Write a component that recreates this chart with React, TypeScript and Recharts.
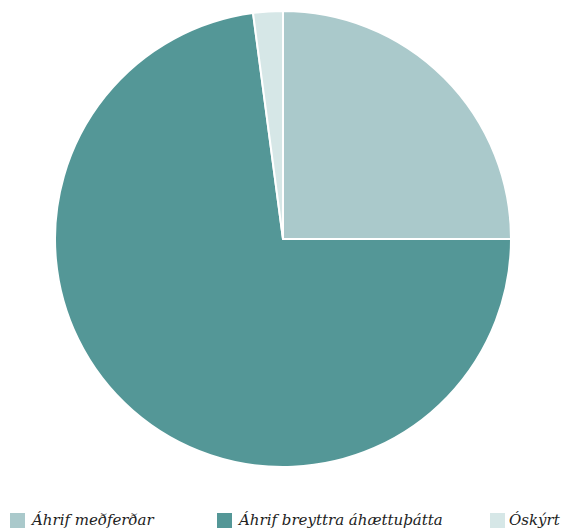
import React from 'react';
import { PieChart, Pie, Cell, Legend } from 'recharts';

const categories = ['Áhrif meðferðar', 'Áhrif breyttra áhættuþátta', 'Óskýrt'];
const values = [25, 72.9, 2.1];
const colors = ['#aac9cb', '#549797', '#d6e7e7'];

const data = categories.map((name, i) => ({ name, value: values[i] }));

const legendLefts = [10, 217, 490];
const legendGaps = [7, 7, 4];

const renderLegend = () => (
  <div style={{ position: 'relative', width: 565, height: 24 }}>
    {categories.map((c, i) => (
      <div
        key={c}
        style={{
          position: 'absolute',
          left: legendLefts[i],
          top: 0,
          display: 'flex',
          alignItems: 'center',
          fontFamily: '"DejaVu Serif", "Liberation Serif", serif',
          fontStyle: 'italic',
          fontSize: 15,
          color: '#222',
          whiteSpace: 'nowrap',
        }}
      >
        <span style={{ display: 'inline-block', width: 15, height: 15, background: colors[i], marginRight: legendGaps[i] }} />
        {c}
      </div>
    ))}
  </div>
);

export default function App() {
  return (
    <div style={{ position: 'absolute', left: 0, top: 0, width: 565, height: 531, background: '#fff' }}>
      <PieChart width={565} height={531} margin={{ top: 0, right: 0, bottom: 0, left: 0 }}>
        <Pie
          data={data}
          dataKey="value"
          nameKey="name"
          cx={283}
          cy={239}
          outerRadius={228}
          innerRadius={0}
          startAngle={90}
          endAngle={-270}
          stroke="#ffffff"
          strokeWidth={2}
          isAnimationActive={false}
        >
          {data.map((d, i) => (
            <Cell key={d.name} fill={colors[i]} />
          ))}
        </Pie>
        <Legend
          content={renderLegend}
          wrapperStyle={{ position: 'absolute', left: 0, top: 511, width: 565, height: 24 }}
        />
      </PieChart>
    </div>
  );
}
